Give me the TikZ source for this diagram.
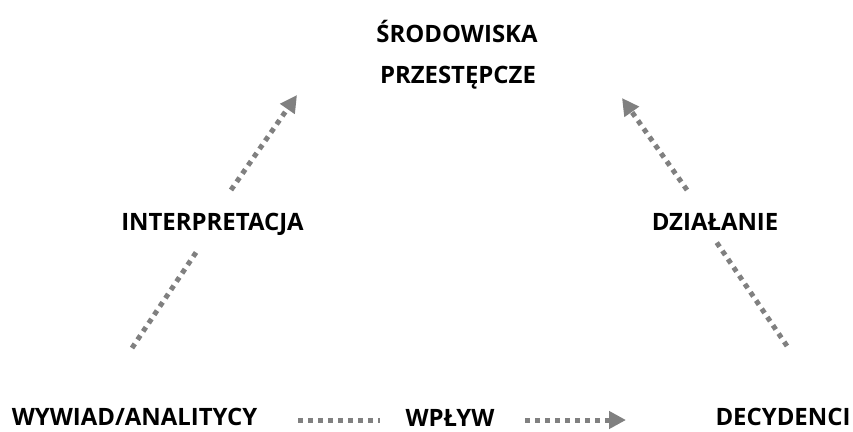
\documentclass[tikz,border=0pt]{standalone}
\usepackage{fontspec}
\setmainfont{Open Sans}
\usetikzlibrary{arrows.meta}
\definecolor{flowgray}{HTML}{808080}
\tikzset{
  lbl/.style={font=\fontsize{24}{28}\selectfont\bfseries, text=black, inner sep=0pt, anchor=base},
  flow/.style={draw=flowgray, line width=5bp, dash pattern=on 5bp off 5bp},
  flowtip/.style={flow, -{Triangle[length=17bp,width=17bp]}, flowgray},
}
\begin{document}
\begin{tikzpicture}[x=1bp,y=-1bp]
  \useasboundingbox (0,0) rectangle (853,431);
  % labels (placed by their baselines)
  \node[lbl] (srod) at (457,42) {ŚRODOWISKA};
  \node[lbl] (przes) at (458,83) {PRZESTĘPCZE};
  \node[lbl] (interp) at (212.5,230) {INTERPRETACJA};
  \node[lbl] (dzial) at (715,230) {DZIAŁANIE};
  \node[lbl] (wywiad) at (134.5,425) {WYWIAD/ANALITYCY};
  \node[lbl] (wplyw) at (450,426) {WPŁYW};
  \node[lbl] (decyd) at (783,425) {DECYDENCI};
  % connector ends
  \coordinate (l0) at (132,348);
  \coordinate (l1) at (197,251);
  \coordinate (l2) at (231,190);
  \coordinate (l3) at (297,95);
  \coordinate (r0) at (787,346);
  \coordinate (r1) at (715,240);
  \coordinate (r2) at (687,190);
  \coordinate (r3) at (622,98);
  \coordinate (b0) at (298,420);
  \coordinate (b1) at (380,420);
  \coordinate (b2) at (525,420);
  \coordinate (b3) at (626,420);
  % dotted arrows
  \draw[flow] (l0) -- (l1);
  \draw[flowtip] (l2) -- (l3);
  \draw[flow] (r0) -- (r1);
  \draw[flowtip] (r2) -- (r3);
  \draw[flow] (b0) -- (b1);
  \draw[flowtip] (b2) -- (b3);
\end{tikzpicture}
\end{document}
